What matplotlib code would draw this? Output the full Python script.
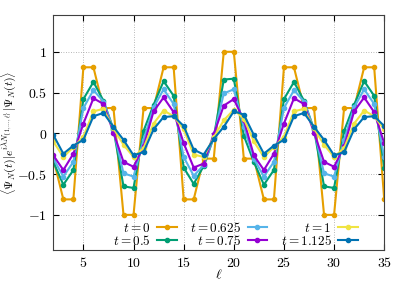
import matplotlib
matplotlib.use("Agg")
import matplotlib.pyplot as plt
from matplotlib.ticker import FuncFormatter

plt.rcParams["mathtext.fontset"] = "cm"
plt.rcParams["font.family"] = "serif"
plt.rcParams["font.serif"] = ["DejaVu Serif"]

# subsystem size ell = 2..35
ell = list(range(2, 36))

t_labels = ["0", "0.5", "0.625", "0.75", "1", "1.125"]

fcs_t0 = [-0.31, -0.81, -0.81, 0.81, 0.81, 0.31, 0.31,
          -1.0, -1.0, 0.31, 0.31, 0.81, 0.81, -0.81, -0.81, -0.31, -0.31,
          1.0, 1.0, -0.31, -0.31, -0.81, -0.81, 0.81, 0.81, 0.31, 0.31,
          -1.0, -1.0, 0.31, 0.31, 0.81, 0.81, -0.81]
fcs_t05 = [-0.35, -0.63, -0.45, 0.42, 0.63, 0.40, 0.05,
           -0.65, -0.67, 0.03, 0.35, 0.64, 0.46, -0.42, -0.62, -0.40, -0.05,
           0.66, 0.67, -0.03, -0.35, -0.63, -0.45, 0.42, 0.63, 0.40, 0.05,
           -0.65, -0.67, 0.03, 0.35, 0.64, 0.46, -0.42]
fcs_t0625 = [-0.31, -0.53, -0.35, 0.31, 0.53, 0.39, 0.04,
             -0.49, -0.53, -0.08, 0.32, 0.54, 0.36, -0.29, -0.52, -0.39, -0.04,
             0.49, 0.54, 0.08, -0.31, -0.53, -0.35, 0.31, 0.53, 0.39, 0.04,
             -0.49, -0.53, -0.08, 0.32, 0.54, 0.36, -0.29]
fcs_t075 = [-0.27, -0.45, -0.25, 0.12, 0.43, 0.36, 0.01,
            -0.35, -0.41, -0.16, 0.27, 0.44, 0.26, -0.12, -0.42, -0.37, -0.01,
            0.34, 0.42, 0.16, -0.27, -0.45, -0.25, 0.12, 0.43, 0.36, 0.01,
            -0.35, -0.41, -0.16, 0.27, 0.44, 0.26, -0.12]
fcs_t1 = [-0.10, -0.29, -0.17, -0.04, 0.27, 0.30, 0.06,
          -0.14, -0.29, -0.18, 0.12, 0.28, 0.21, 0.05, -0.26, -0.29, -0.05,
          0.16, 0.29, 0.18, -0.10, -0.29, -0.17, -0.04, 0.27, 0.30, 0.06,
          -0.14, -0.29, -0.18, 0.12, 0.28, 0.21, 0.05]
fcs_t1125 = [-0.02, -0.25, -0.15, -0.08, 0.21, 0.25, 0.08,
             -0.08, -0.27, -0.23, 0.05, 0.20, 0.21, 0.09, -0.20, -0.26, -0.07,
             0.08, 0.27, 0.23, -0.02, -0.25, -0.15, -0.08, 0.21, 0.25, 0.08,
             -0.08, -0.27, -0.23, 0.05, 0.20, 0.21, 0.09]

series = [fcs_t0, fcs_t05, fcs_t0625, fcs_t075, fcs_t1, fcs_t1125]
colors = ["#e69f00", "#009e73", "#56b4e9", "#9400d3", "#f0e442", "#0072b2"]

fig = plt.figure(figsize=(4.07, 2.85), dpi=100)
ax = fig.add_axes([0.131, 0.123, 0.813, 0.824])

for y, c, lab in zip(series, colors, t_labels):
    ax.plot(ell, y, color=c, lw=1.5, marker="o", ms=3, label=rf"$t={lab}$")

ax.set_xlim(2, 35)
ax.set_ylim(-1.43, 1.45)
ax.set_xticks([5, 10, 15, 20, 25, 30, 35])
ax.set_yticks([-1, -0.5, 0, 0.5, 1])
ax.xaxis.set_major_formatter(FuncFormatter(lambda v, p: rf"${v:g}$"))
ax.yaxis.set_major_formatter(FuncFormatter(lambda v, p: rf"${v:g}$"))
ax.tick_params(direction="in", top=True, right=True, length=4, width=0.8,
               labelsize=10, pad=4.5)
ax.grid(True, ls=(0, (1, 2)), color="#a0a0a0", lw=0.6)
for s in ax.spines.values():
    s.set_linewidth(0.8)
    s.set_color("#404040")

ax.set_xlabel(r"$\ell$", fontsize=10, labelpad=-2)
ax.set_ylabel(r"$\langle\Psi_N(t)|e^{i\lambda N_{\{1,\ldots,\ell\}}}|\Psi_N(t)\rangle$",
              fontsize=8.5)
ax.yaxis.set_label_coords(-0.108, 0.5)

ax.legend(loc="lower center", bbox_to_anchor=(0.55, -0.025), ncol=3, frameon=False,
          markerfirst=False, fontsize=9.5, handlelength=1.5, columnspacing=1.0,
          handletextpad=0.5, labelspacing=-0.05, borderaxespad=0.2)

fig.savefig("out.png", dpi=100)
